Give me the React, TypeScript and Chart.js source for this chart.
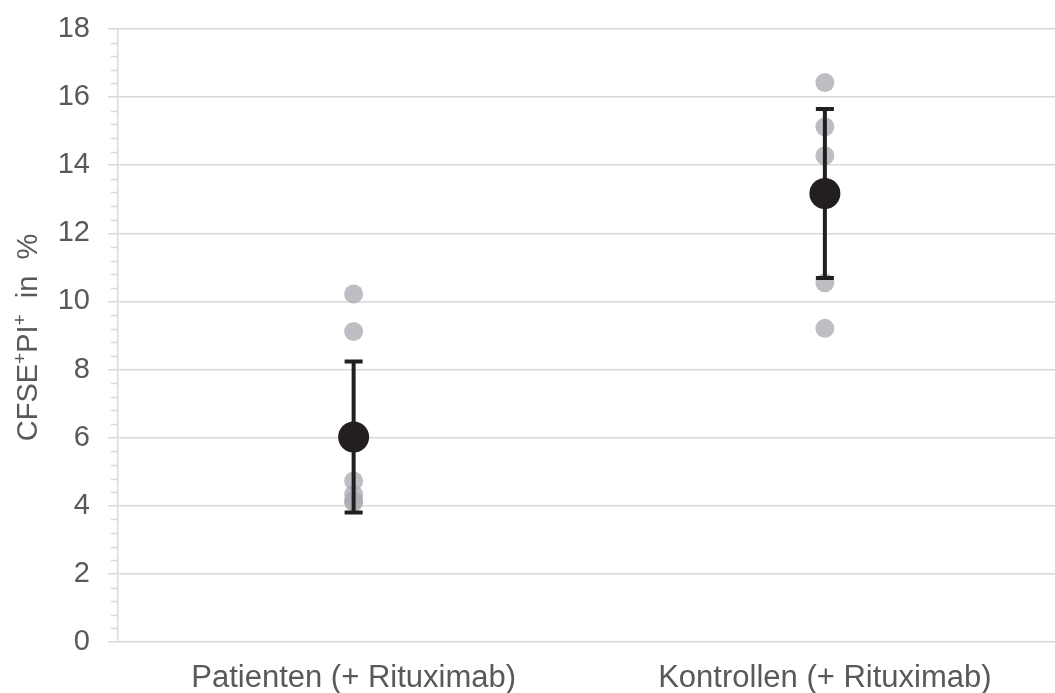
import React, { useEffect, useRef } from "react";
import { Chart, registerables } from "chart.js";

Chart.register(...registerables);

const categories = ["Patienten (+ Rituximab)", "Kontrollen (+ Rituximab)"];
const patientValues = [10.22, 9.12, 4.73, 4.33, 4.15, 4.1];
const controlValues = [16.43, 15.13, 14.28, 10.55, 9.21];
const means = [6.02, 13.17];
const sds = [2.22, 2.48];
const yTicks = [0, 2, 4, 6, 8, 10, 12, 14, 16, 18];
const yTitleParts: [string, boolean][] = [
  ["CFSE", false],
  ["+", true],
  ["PI", false],
  ["+", true],
  ["  in  %", false],
];

const FONT = "Liberation Sans, Arial, sans-serif";

const errorBarPlugin = {
  id: "errorBars",
  afterDatasetsDraw(chart: any) {
    const { ctx, scales } = chart;
    const xs = scales.x;
    const ys = scales.y;
    ctx.save();
    ctx.strokeStyle = "#231F20";
    ctx.lineWidth = 4;
    ctx.lineCap = "butt";
    means.forEach((m, i) => {
      const x = xs.getPixelForValue(i);
      const yTop = ys.getPixelForValue(m + sds[i]);
      const yBot = ys.getPixelForValue(m - sds[i]);
      ctx.beginPath();
      ctx.moveTo(x, yTop);
      ctx.lineTo(x, yBot);
      ctx.moveTo(x - 9, yTop);
      ctx.lineTo(x + 9, yTop);
      ctx.moveTo(x - 9, yBot);
      ctx.lineTo(x + 9, yBot);
      ctx.stroke();
      ctx.fillStyle = "#231F20";
      ctx.beginPath();
      ctx.arc(x, ys.getPixelForValue(m), 15.5, 0, Math.PI * 2);
      ctx.fill();
    });
    ctx.restore();
  },
  afterDraw(chart: any) {
    const { ctx, scales, chartArea } = chart;
    const ys = scales.y;
    const left = chartArea.left;
    ctx.save();
    ctx.strokeStyle = "#D9D9D9";
    ctx.lineWidth = 1.5;
    for (let k = 0; k <= 45; k++) {
      if (k % 5 === 0) continue;
      const v = k * 0.4;
      const y = Math.round(ys.getPixelForValue(v)) + 0.5;
      ctx.beginPath();
      ctx.moveTo(left - 7, y);
      ctx.lineTo(left, y);
      ctx.stroke();
    }
    ctx.restore();

    // y-axis title with superscripts
    ctx.save();
    const normal = `29px ${FONT}`;
    const sup = `19px ${FONT}`;
    let total = 0;
    const widths = yTitleParts.map(([t, s]) => {
      ctx.font = s ? sup : normal;
      const w = ctx.measureText(t).width;
      total += w;
      return w;
    });
    const cy = (chartArea.top + chartArea.bottom) / 2 + 2;
    ctx.translate(37, cy);
    ctx.rotate(-Math.PI / 2);
    ctx.fillStyle = "#595959";
    ctx.textBaseline = "alphabetic";
    ctx.textAlign = "left";
    let x = -total / 2;
    yTitleParts.forEach(([t, s], i) => {
      ctx.font = s ? sup : normal;
      ctx.fillText(t, x, s ? -11 : 0);
      x += widths[i];
    });
    ctx.restore();
  },
};

export default function App() {
  const ref = useRef<HTMLCanvasElement>(null);
  useEffect(() => {
    if (!ref.current) return;
    const chart = new Chart(ref.current, {
      type: "line",
      data: {
        labels: categories,
        datasets: [
          {
            data: [
              ...patientValues.map((v) => ({ x: categories[0], y: v })),
              ...controlValues.map((v) => ({ x: categories[1], y: v })),
            ],
            showLine: false,
            pointRadius: 9.5,
            pointBorderWidth: 0,
            pointBackgroundColor: "rgba(170,172,178,0.78)",
            pointBorderColor: "rgba(0,0,0,0)",
          },
        ],
      },
      options: {
        responsive: false,
        animation: false,
        layout: { padding: { top: 29, right: 0, left: 0, bottom: 0 } },
        plugins: {
          legend: { display: false },
          tooltip: { enabled: false },
        },
        scales: {
          x: {
            type: "category",
            offset: true,
            grid: { display: false },
            border: { display: false },
            ticks: {
              color: "#595959",
              font: { family: FONT, size: 31 },
              padding: 10,
            },
            afterFit(scale: any) {
              scale.height = 51;
              scale.paddingLeft = 0;
              scale.paddingRight = 0;
            },
          },
          y: {
            min: 0,
            max: 18,
            afterBuildTicks(scale: any) {
              scale.ticks = yTicks.map((v) => ({ value: v }));
            },
            grid: { color: "#D9D9D9", lineWidth: 1.5, tickLength: 10 },
            border: { display: true, color: "#D9D9D9", width: 1.5 },
            ticks: {
              color: "#595959",
              font: { family: FONT, size: 29 },
              padding: 18,
            },
            afterFit(scale: any) {
              scale.width = 118;
              scale.paddingTop = 0;
              scale.paddingBottom = 0;
            },
          },
        },
      },
      plugins: [errorBarPlugin],
    });
    return () => chart.destroy();
  }, []);
  return (
    <div style={{ position: "fixed", left: 0, top: 0, width: 1055, height: 693, overflow: "hidden", background: "#fff" }}>
      <canvas ref={ref} width={1070} height={693} style={{ display: "block" }} />
    </div>
  );
}
